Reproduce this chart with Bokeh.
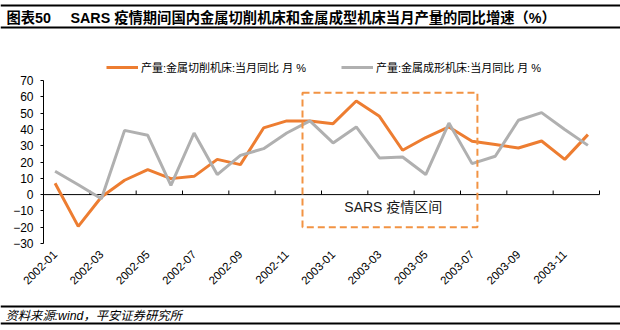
import math
from bokeh.plotting import figure
from bokeh.models import (LinearAxis, FixedTicker, Range1d, Legend, LegendItem,
                          BoxAnnotation, Label, ColumnDataSource)
from bokeh.core.properties import value
from bokeh.embed import file_html
from bokeh.resources import INLINE

months = ["2002-01", "2002-02", "2002-03", "2002-04", "2002-05", "2002-06",
          "2002-07", "2002-08", "2002-09", "2002-10", "2002-11", "2002-12",
          "2003-01", "2003-02", "2003-03", "2003-04", "2003-05", "2003-06",
          "2003-07", "2003-08", "2003-09", "2003-10", "2003-11", "2003-12"]
cutting = [7.0, -19.5, -1.5, 8.8, 15.3, 9.8, 11.2, 21.6, 18.4, 40.9, 45.2, 45.2,
           43.5, 57.4, 48.0, 27.2, 35.0, 41.5, 32.7, 30.7, 28.6, 32.9, 21.6, 36.8]
forming = [14.3, 6.0, -2.5, 39.4, 36.4, 5.7, 37.8, 12.3, 24.1, 28.2, 37.8, 45.2,
           31.7, 41.5, 22.5, 23.1, 12.3, 43.9, 19.0, 23.5, 45.6, 50.3, 39.9, 30.2]
y_ticks = [-30, -20, -10, 0, 10, 20, 30, 40, 50, 60, 70]
series_names = ["产量:金属切削机床:当月同比 月 %", "产量:金属成形机床:当月同比 月 %"]
title_num = "图表50"
title_text = "SARS 疫情期间国内金属切削机床和金属成型机床当月产量的同比增速（%）"
source_text = "资料来源:wind，平安证券研究所"
sars_label = "SARS 疫情区间"
sars_start, sars_end = "2002-12", "2003-07"
sars_low, sars_high = -20, 62.5

FONT = "Liberation Sans, Noto Sans CJK SC"
ORANGE = "#ED7D31"
GRAY = "#B0B0B0"
BLACK = "#000000"
W, H = 620, 330
PLOT_L, PLOT_R, PLOT_T, PLOT_B = 43, 599, 80, 243

n = len(months)
y_min, y_max = y_ticks[0], y_ticks[-1]

# canvas-wide frame in pixel units; chart drawn through its own ranges
p = figure(width=W, height=H, x_range=Range1d(0, W), y_range=Range1d(H, 0),
           output_backend="svg", toolbar_location=None,
           x_axis_location=None, y_axis_location=None, min_border=0)
p.outline_line_color = None
p.background_fill_color = "white"
p.border_fill_color = "white"
for g in p.grid:
    g.visible = False

px_x = (PLOT_R - PLOT_L) / n
px_y = (PLOT_B - PLOT_T) / (y_max - y_min)
p.extra_x_ranges = {"cx": Range1d(-0.5 - PLOT_L / px_x, -0.5 + (W - PLOT_L) / px_x)}
p.extra_y_ranges = {"cy": Range1d(y_min - (H - PLOT_B) / px_y, y_max + PLOT_T / px_y)}

# title and source banners
rules = [5, 27, 306, 323]
p.multi_line(xs=[[0, W] for _ in rules], ys=[[r, r] for r in rules],
             line_color=BLACK, line_width=2)
p.text(x=[6, 70], y=[17, 17], text=[title_num, title_text], text_font=value(FONT),
       text_font_style="bold", text_font_size="14.3px", text_baseline="middle",
       text_color=BLACK)
p.text(x=[5], y=[315], text=[source_text], text_font=value(FONT),
       text_font_style="italic", text_font_size="12.3px", text_baseline="middle",
       text_color=BLACK)

# y axis
yax = LinearAxis(ticker=FixedTicker(ticks=y_ticks), y_range_name="cy",
                 fixed_location=PLOT_L, bounds=(y_min, y_max))
yax.major_tick_out = 3
yax.major_tick_in = 0
yax.minor_tick_line_color = None
yax.major_label_standoff = 7
yax.major_label_text_font = "Liberation Sans"
yax.major_label_text_font_size = "12px"
yax.major_label_text_color = BLACK
yax.axis_line_color = BLACK
yax.major_tick_line_color = BLACK
p.add_layout(yax, "left")

# x labels at bottom of the chart area
lab_ticks = list(range(0, n, 2))
xax = LinearAxis(ticker=FixedTicker(ticks=lab_ticks), x_range_name="cx",
                 fixed_location=PLOT_B)
xax.major_label_overrides = {i: months[i] for i in lab_ticks}
xax.major_label_orientation = math.pi / 4
xax.axis_line_color = None
xax.major_tick_line_color = None
xax.minor_tick_line_color = None
xax.major_tick_out = 0
xax.major_tick_in = 0
xax.major_label_standoff = 9
xax.major_label_text_font = "Liberation Sans"
xax.major_label_text_font_size = "11.5px"
xax.major_label_text_color = BLACK
p.add_layout(xax, "below")

# zero line with ticks between month pairs
bounds = [b - 0.5 for b in range(0, n + 1, 2)]
tick_len = 2.5
p.segment(x0=[-0.5], y0=[0], x1=[n - 0.5], y1=[0], line_color=BLACK, line_width=1,
          x_range_name="cx", y_range_name="cy")
p.segment(x0=bounds, y0=[0] * len(bounds), x1=bounds, y1=[tick_len] * len(bounds),
          line_color=BLACK, line_width=1, x_range_name="cx", y_range_name="cy")

src = ColumnDataSource(dict(x=list(range(n)), cutting=cutting, forming=forming))
r1 = p.line("x", "cutting", source=src, line_color=ORANGE, line_width=3,
            x_range_name="cx", y_range_name="cy")
r2 = p.line("x", "forming", source=src, line_color=GRAY, line_width=3,
            x_range_name="cx", y_range_name="cy")

box = BoxAnnotation(left=months.index(sars_start) - 0.32, right=months.index(sars_end) + 0.23,
                    bottom=sars_low, top=sars_high, fill_color=None, fill_alpha=0,
                    line_color="#F29343", line_alpha=1.0, line_width=2, line_dash="7 4",
                    x_range_name="cx", y_range_name="cy")
p.add_layout(box)

lbl = Label(x=(months.index(sars_start) + months.index(sars_end)) / 2 + 0.1, y=-7.6,
            text=sars_label, text_align="center", text_baseline="middle",
            text_font=FONT, text_font_size="14px", text_color="#1a1a1a",
            x_range_name="cx", y_range_name="cy")
p.add_layout(lbl)

legend = Legend(items=[LegendItem(label=series_names[0], renderers=[r1]),
                       LegendItem(label=series_names[1], renderers=[r2])],
                orientation="horizontal", location=(106, H - 75))
legend.label_text_font = FONT
legend.label_text_font_size = "11px"
legend.label_text_color = BLACK
legend.glyph_width = 32
legend.glyph_height = 14
legend.label_height = 14
legend.label_standoff = 3
legend.spacing = 35
legend.padding = 0
legend.margin = 0
legend.border_line_color = None
legend.background_fill_alpha = 0
p.add_layout(legend, "center")

open("out.html", "w").write(file_html(p, INLINE))
